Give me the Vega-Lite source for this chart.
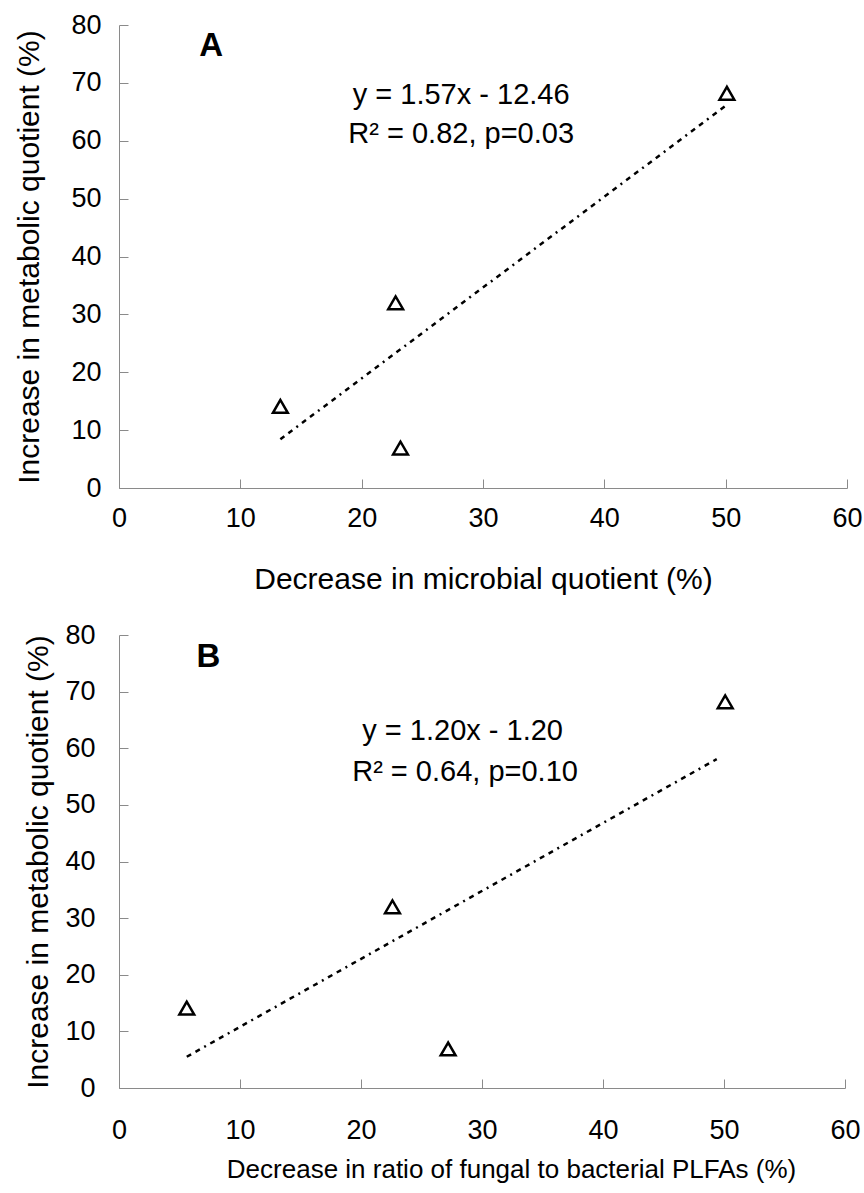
{
  "$schema": "https://vega.github.io/schema/vega-lite/v6.json",
  "background": "white",
  "padding": {"left": 14, "top": 11, "right": 8, "bottom": 8},
  "bounds": "flush",
  "spacing": 147,
  "config": {
    "font": "Liberation Sans",
    "view": {"stroke": null},
    "axis": {
      "domainColor": "#8a8a8a",
      "tickColor": "#8a8a8a",
      "tickSize": -9,
      "labelFontSize": 27,
      "labelColor": "black",
      "titleFontSize": 30,
      "titleFontWeight": "normal",
      "titleColor": "black",
      "grid": false,
      "labelFlush": false,
      "labelOverlap": false
    }
  },
  "datasets": {
    "ptsA": [
      {"x": 13.3, "y": 14.1},
      {"x": 22.8, "y": 32.0},
      {"x": 23.2, "y": 6.9},
      {"x": 50.1, "y": 68.2}
    ],
    "fitA": [
      {"x": 13.3, "y": 8.42},
      {"x": 50.2, "y": 66.35}
    ],
    "ptsB": [
      {"x": 5.6, "y": 14.1},
      {"x": 22.6, "y": 32.0},
      {"x": 27.2, "y": 6.9},
      {"x": 50.1, "y": 68.2}
    ],
    "fitB": [
      {"x": 5.6, "y": 5.52},
      {"x": 49.4, "y": 58.08}
    ],
    "txtA": [
      {"x": 28.2, "y": 67.9, "t": "y = 1.57x - 12.46"},
      {"x": 28.2, "y": 61.1, "t": "R² = 0.82, p=0.03"}
    ],
    "txtB": [
      {"x": 28.4, "y": 63.1, "t": "y = 1.20x - 1.20"},
      {"x": 28.6, "y": 55.8, "t": "R² = 0.64, p=0.10"}
    ],
    "lblA": [{"x": 7.6, "y": 76.3, "t": "A"}],
    "lblB": [{"x": 7.4, "y": 76.1, "t": "B"}]
  },
  "vconcat": [
    {
      "width": 728,
      "height": 463,
      "layer": [
        {
          "data": {"name": "fitA"},
          "mark": {"type": "line", "color": "black", "strokeWidth": 2.5, "strokeDash": [5, 5, 5, 5, 2, 5]},
          "encoding": {
            "x": {"field": "x", "type": "quantitative", "scale": {"domain": [0, 60], "nice": false},
              "axis": {"title": "Decrease in microbial quotient (%)", "values": [0, 10, 20, 30, 40, 50, 60], "labelPadding": 26, "titlePadding": 33}},
            "y": {"field": "y", "type": "quantitative", "scale": {"domain": [0, 80], "nice": false},
              "axis": {"title": "Increase in metabolic quotient (%)", "values": [0, 10, 20, 30, 40, 50, 60, 70, 80], "labelPadding": 27, "titlePadding": 26}}
          }
        },
        {
          "data": {"name": "ptsA"},
          "mark": {"type": "point", "shape": "triangle-up", "filled": false, "stroke": "black", "strokeWidth": 2.5, "size": 220, "opacity": 1},
          "encoding": {
            "x": {"field": "x", "type": "quantitative"},
            "y": {"field": "y", "type": "quantitative"}
          }
        },
        {
          "data": {"name": "txtA"},
          "mark": {"type": "text", "fontSize": 29, "color": "black", "align": "center", "baseline": "middle"},
          "encoding": {
            "x": {"field": "x", "type": "quantitative"},
            "y": {"field": "y", "type": "quantitative"},
            "text": {"field": "t"}
          }
        },
        {
          "data": {"name": "lblA"},
          "mark": {"type": "text", "fontSize": 33, "fontWeight": "bold", "color": "black", "align": "center", "baseline": "middle"},
          "encoding": {
            "x": {"field": "x", "type": "quantitative"},
            "y": {"field": "y", "type": "quantitative"},
            "text": {"field": "t"}
          }
        }
      ]
    },
    {
      "width": 726,
      "height": 453,
      "layer": [
        {
          "data": {"name": "fitB"},
          "mark": {"type": "line", "color": "black", "strokeWidth": 2.5, "strokeDash": [5, 5, 5, 5, 2, 5]},
          "encoding": {
            "x": {"field": "x", "type": "quantitative", "scale": {"domain": [0, 60], "nice": false},
              "axis": {"title": "Decrease in ratio of fungal to bacterial PLFAs (%)", "values": [0, 10, 20, 30, 40, 50, 60], "labelPadding": 38, "titlePadding": 13, "titleFontSize": 26, "titleX": 392}},
            "y": {"field": "y", "type": "quantitative", "scale": {"domain": [0, 80], "nice": false},
              "axis": {"title": "Increase in metabolic quotient (%)", "values": [0, 10, 20, 30, 40, 50, 60, 70, 80], "labelPadding": 33, "titlePadding": 11}}
          }
        },
        {
          "data": {"name": "ptsB"},
          "mark": {"type": "point", "shape": "triangle-up", "filled": false, "stroke": "black", "strokeWidth": 2.5, "size": 220, "opacity": 1},
          "encoding": {
            "x": {"field": "x", "type": "quantitative"},
            "y": {"field": "y", "type": "quantitative"}
          }
        },
        {
          "data": {"name": "txtB"},
          "mark": {"type": "text", "fontSize": 29, "color": "black", "align": "center", "baseline": "middle"},
          "encoding": {
            "x": {"field": "x", "type": "quantitative"},
            "y": {"field": "y", "type": "quantitative"},
            "text": {"field": "t"}
          }
        },
        {
          "data": {"name": "lblB"},
          "mark": {"type": "text", "fontSize": 33, "fontWeight": "bold", "color": "black", "align": "center", "baseline": "middle"},
          "encoding": {
            "x": {"field": "x", "type": "quantitative"},
            "y": {"field": "y", "type": "quantitative"},
            "text": {"field": "t"}
          }
        }
      ]
    }
  ]
}
